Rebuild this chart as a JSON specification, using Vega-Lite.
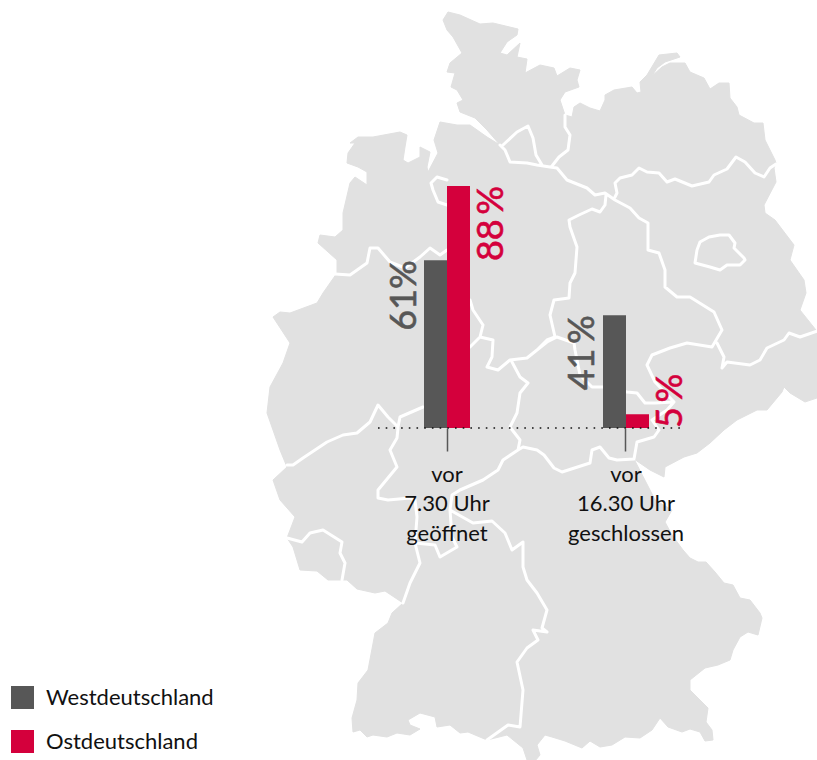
{"$schema":"https://vega.github.io/schema/vega-lite/v6.json","width":817,"height":760,"padding":0,"autosize":{"type":"none"},"background":"white","config":{"view":{"stroke":null},"font":"Lato"},
"datasets":{"bars":[
{"gruppe":"vor|7.30 Uhr|geöffnet","region":"Westdeutschland","wert":61,"text":"61%"},
{"gruppe":"vor|7.30 Uhr|geöffnet","region":"Ostdeutschland","wert":88,"text":"88\u2009%"},
{"gruppe":"vor|16.30 Uhr|geschlossen","region":"Westdeutschland","wert":41,"text":"41\u2009%"},
{"gruppe":"vor|16.30 Uhr|geschlossen","region":"Ostdeutschland","wert":5,"text":"5\u2009%"}]},
"layer":[
{"data":{"values":[{"type":"Feature","properties":{"name":"Deutschland"},"geometry":{"type":"Polygon","coordinates":[[[443,20],[448,12],[460,15],[480,24],[493,23],[518,29],[517,35],[507,42],[500,53],[507,55],[520,43],[517,57],[527,59],[525,73],[540,65],[554,68],[557,76],[570,68],[580,70],[577,80],[579,87],[565,92],[560,100],[565,115],[572,117],[574,107],[580,103],[590,108],[600,111],[605,100],[605,95],[614,90],[632,87],[637,93],[641,92],[640,82],[647,75],[659,55],[677,53],[680,57],[665,62],[657,68],[652,76],[662,67],[670,63],[685,63],[690,72],[704,78],[710,89],[719,83],[729,83],[730,98],[737,107],[739,115],[754,123],[763,123],[765,140],[775,160],[776,163],[774,168],[776,182],[764,205],[765,213],[775,220],[794,245],[790,260],[804,280],[806,293],[800,310],[820,335],[820,397],[805,402],[790,393],[784,387],[782,392],[767,410],[757,410],[737,420],[724,430],[710,443],[697,453],[684,457],[665,467],[664,477],[650,470],[634,459],[650,490],[655,500],[672,510],[665,522],[672,535],[683,550],[690,558],[698,562],[706,562],[715,572],[724,583],[733,585],[740,598],[750,600],[760,613],[762,618],[758,635],[748,632],[740,637],[733,650],[730,660],[718,665],[705,668],[690,680],[690,690],[700,700],[708,708],[706,722],[712,730],[713,740],[705,741],[700,732],[690,729],[682,732],[668,727],[660,718],[652,730],[640,738],[625,737],[612,745],[600,747],[590,741],[582,748],[565,741],[552,737],[545,735],[537,745],[540,755],[535,761],[527,760],[523,748],[507,735],[487,740],[468,732],[460,733],[450,725],[437,727],[435,717],[420,713],[408,720],[410,725],[420,729],[410,735],[397,733],[387,737],[373,735],[367,737],[360,730],[353,732],[352,718],[357,700],[358,683],[368,670],[375,633],[388,623],[392,613],[403,603],[385,591],[375,593],[357,589],[347,580],[328,580],[317,571],[300,570],[293,547],[287,538],[295,517],[280,500],[273,480],[287,467],[280,450],[267,413],[270,387],[283,363],[290,343],[273,317],[280,312],[290,313],[317,303],[323,293],[337,273],[337,260],[318,243],[320,235],[335,237],[343,230],[343,213],[350,183],[355,177],[367,185],[367,172],[358,167],[347,163],[348,153],[355,143],[350,143],[358,137],[373,137],[400,132],[407,135],[405,147],[403,160],[408,163],[420,157],[420,147],[430,152],[427,167],[428,172],[438,153],[434,140],[440,122],[457,125],[470,125],[487,137],[500,145],[487,130],[475,118],[460,112],[457,103],[463,100],[457,90],[451,87],[455,73],[447,72],[450,63],[462,53],[453,37],[447,30],[443,20]]]}}]},
"projection":{"type":"identity","scale":1,"translate":[0,0]},"mark":{"type":"geoshape","fill":"#e1e1e1","stroke":"#e1e1e1","strokeWidth":1,"strokeJoin":"round"}},
{"data":{"values":[{"type":"Feature","properties":{"name":"Ländergrenzen"},"geometry":{"type":"MultiLineString","coordinates":[
[[500,145],[505,150],[510,162],[527,163],[537,165],[550,167],[557,168],[567,180],[587,188],[595,195],[605,193],[615,200],[630,208],[639,218],[648,223],[648,250],[659,253],[665,270],[665,287],[677,297],[690,297],[714,312],[722,330],[712,347],[687,343],[670,348],[652,355],[647,365],[655,382],[674,402],[667,410],[652,420],[659,430],[654,437],[637,442],[634,459],[617,460],[609,458],[600,447],[592,450],[590,463],[562,472],[554,468],[544,455],[537,450],[523,447],[518,450],[503,460],[498,470],[483,480],[460,490],[452,495],[450,510],[452,537],[457,547],[440,557],[435,545],[415,543]],
[[717,343],[724,357],[722,368],[727,362],[750,365],[760,360],[767,348],[784,340],[789,333],[800,337],[820,330]],
[[615,197],[617,193],[615,183],[620,178],[632,175],[639,168],[647,172],[659,173],[667,182],[675,179],[692,186],[709,182],[714,175],[727,169],[736,157],[745,162],[755,173],[764,177],[770,168],[776,164]],
[[565,115],[565,127],[570,135],[568,150],[559,157],[552,166]],
[[503,145],[517,132],[528,126],[533,138],[536,155],[542,165]],
[[606,195],[605,205],[600,212],[592,209],[579,215],[569,220],[570,227],[577,247],[575,273],[570,283],[569,298],[554,300],[550,315],[555,337],[547,340],[537,350],[527,358],[510,360],[498,370],[487,367],[492,357],[493,340],[480,337],[470,347]],
[[483,325],[473,310],[470,300]],[[480,337],[483,325]],
[[335,274],[350,275],[367,263],[370,248],[378,248],[390,262],[405,268],[420,257],[430,248],[440,255],[447,250]],
[[447,180],[437,177],[431,183],[433,190],[438,202],[447,205]],
[[287,465],[293,465],[303,458],[327,442],[343,435],[357,433],[370,422],[378,405],[388,417],[398,427],[400,417],[423,407]],
[[398,428],[397,438],[390,450],[397,467],[378,490],[378,498],[388,500],[410,498],[415,500],[417,517],[415,543],[420,563],[410,583],[403,603]],
[[512,362],[520,377],[528,383],[520,393],[517,413],[510,427],[520,440],[518,450]],
[[450,510],[473,523],[492,521],[505,533],[512,550],[523,542],[523,567],[527,580],[537,593],[547,610],[542,628],[547,632],[533,630],[538,640],[527,648],[517,662],[523,690],[520,727],[508,725],[487,740]],
[[287,538],[302,542],[310,533],[323,530],[342,542],[340,553],[345,563],[342,580]],
[[537,350],[547,342],[557,337],[574,343],[575,350],[580,375],[592,387],[604,387],[627,392],[637,393],[645,403],[655,403],[674,402]],
[[700,242],[709,237],[720,235],[729,235],[735,243],[734,248],[744,258],[745,260],[740,265],[727,265],[720,270],[710,267],[695,263],[697,250],[700,242]]
]}}]},
"projection":{"type":"identity","scale":1,"translate":[0,0]},"mark":{"type":"geoshape","filled":false,"stroke":"white","strokeWidth":3,"strokeJoin":"round","strokeCap":"round"}},
{"data":{"name":"bars"},"mark":{"type":"bar"},
"encoding":{
"x":{"field":"gruppe","type":"nominal","sort":null,"scale":{"type":"band","domain":["vor|7.30 Uhr|geöffnet","vor|16.30 Uhr|geschlossen"],"range":[424,649],"paddingInner":0.743,"paddingOuter":0},
"axis":{"title":null,"orient":"bottom","offset":-332,"zindex":1,"domain":false,"labelAngle":0,"labelExpr":"split(datum.label,'|')","labelFontSize":22,"labelColor":"#111111","labelFont":"Lato","labelLineHeight":29.5,"tickSize":23,"tickColor":"#575757","tickWidth":1.5,"labelPadding":13,"labelLimit":300}},
"xOffset":{"field":"region","type":"nominal","sort":["Westdeutschland","Ostdeutschland"],"scale":{"paddingInner":0,"paddingOuter":0}},
"y":{"field":"wert","type":"quantitative","axis":null,"scale":{"domain":[-120.7,155.6],"nice":false,"zero":false}},
"color":{"field":"region","type":"nominal","scale":{"domain":["Westdeutschland","Ostdeutschland"],"range":["#575757","#d4003c"]},
"legend":{"title":null,"orient":"none","legendX":11,"legendY":686,"symbolType":"square","symbolSize":529,"symbolStrokeWidth":0,"symbolOpacity":1,"labelFontSize":22,"labelFont":"Lato","labelColor":"#111111","labelLimit":300,"rowPadding":21,"labelOffset":12}}}},
{"data":{"values":[{"name":"Nulllinie"}]},"mark":{"type":"rule","stroke":"#111111","strokeWidth":1.5,"strokeDash":[1.6,6.1]},
"encoding":{"y":{"datum":0},"x":{"value":378},"x2":{"value":684}}},
{"data":{"name":"bars"},"transform":[{"filter":"datum.region=='Westdeutschland'"}],"mark":{"type":"text","angle":270,"align":"right","baseline":"alphabetic","dy":-20,"fontSize":36,"font":"Lato","stroke":"#575757","strokeWidth":0.6},
"encoding":{"x":{"field":"gruppe","type":"nominal","sort":null},"xOffset":{"field":"region","type":"nominal","sort":["Westdeutschland","Ostdeutschland"]},"y":{"field":"wert","type":"quantitative"},"text":{"field":"text"},"color":{"field":"region","type":"nominal","legend":null}}},
{"data":{"name":"bars"},"transform":[{"filter":"datum.region=='Ostdeutschland' && datum.wert>10"}],"mark":{"type":"text","angle":270,"align":"right","baseline":"alphabetic","dy":44,"fontSize":36,"font":"Lato","stroke":"#d4003c","strokeWidth":0.6},
"encoding":{"x":{"field":"gruppe","type":"nominal","sort":null},"xOffset":{"field":"region","type":"nominal","sort":["Westdeutschland","Ostdeutschland"]},"y":{"field":"wert","type":"quantitative"},"text":{"field":"text"},"color":{"field":"region","type":"nominal","legend":null}}},
{"data":{"name":"bars"},"transform":[{"filter":"datum.region=='Ostdeutschland' && datum.wert<10"}],"mark":{"type":"text","angle":270,"align":"left","baseline":"alphabetic","dy":45,"fontSize":36,"font":"Lato","stroke":"#d4003c","strokeWidth":0.6},
"encoding":{"x":{"field":"gruppe","type":"nominal","sort":null},"xOffset":{"field":"region","type":"nominal","sort":["Westdeutschland","Ostdeutschland"]},"y":{"datum":0},"text":{"field":"text"},"color":{"field":"region","type":"nominal","legend":null}}}
]}
